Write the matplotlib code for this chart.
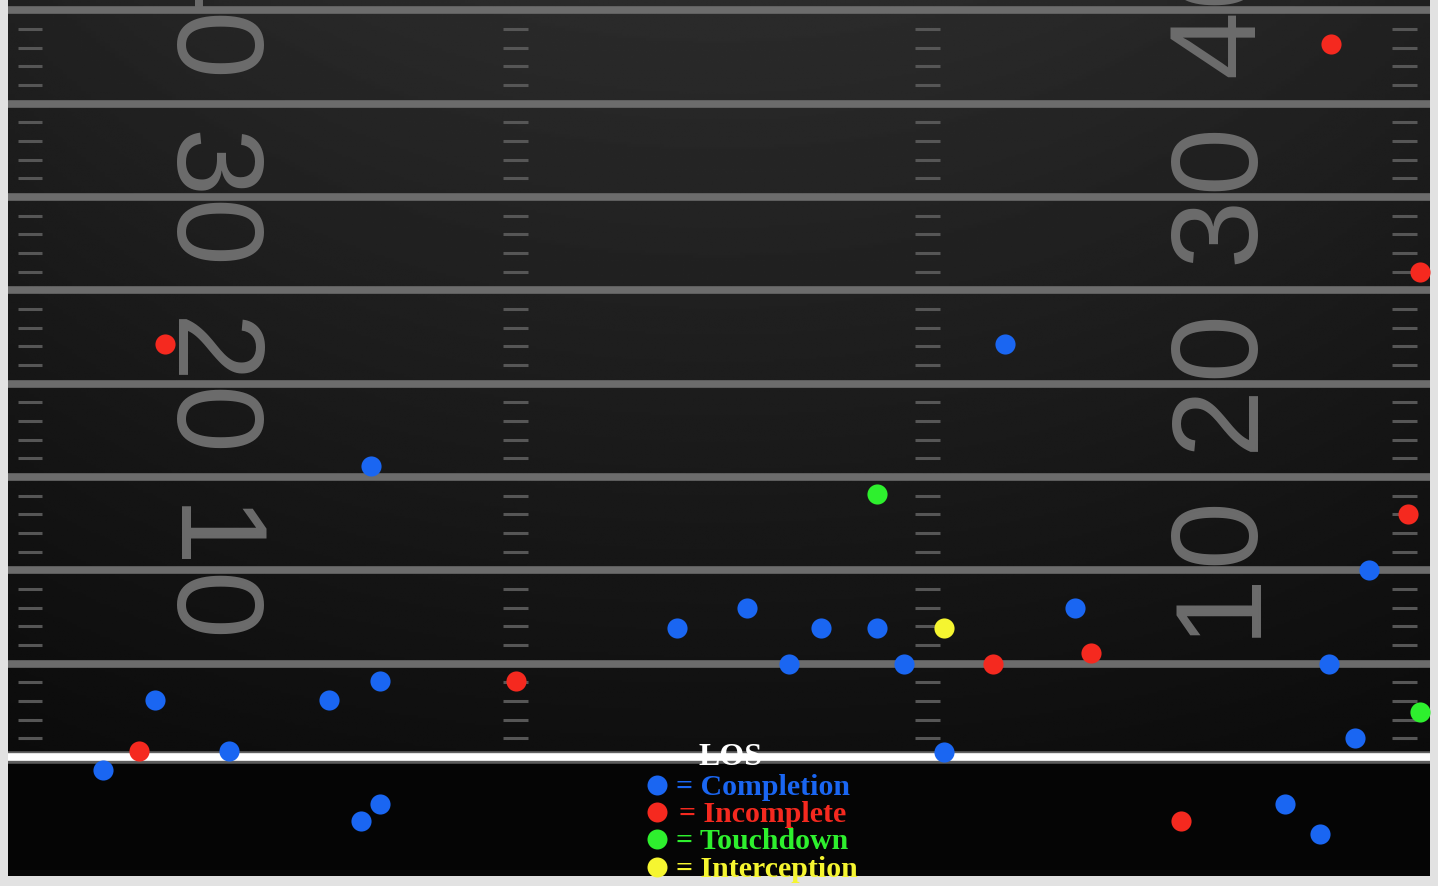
import numpy as np
import matplotlib.pyplot as plt
from matplotlib.lines import Line2D

# pass chart: x = yards from left sideline, y = yards past the line of scrimmage
comp_x = [13.6, 37.4, 51.05, 27.7, 25.1, 30.5, 32.6, 40.0, 29.3, 33.6, 49.55,
          13.95, 5.5, 12.05, 8.3, 35.1, 50.5, 3.55, 13.95, 13.25, 47.9, 49.2]
comp_y = [15.6, 22.1, 10.0, 8.0, 6.9, 6.9, 6.9, 8.0, 5.0, 5.0, 5.0,
          4.1, 3.05, 3.05, 0.3, 0.25, 1.0, -0.7, -2.5, -3.4, -2.5, -4.1]

inc_x = [49.6, 52.95, 5.9, 52.5, 19.05, 36.95, 40.6, 4.9, 44.0]
inc_y = [38.2, 26.0, 22.1, 13.0, 4.1, 5.0, 5.6, 0.3, -3.4]

td_x = [32.6, 52.95]
td_y = [14.1, 2.4]

int_x = [35.1]
int_y = [6.9]

outcomes = ["Completion", "Incomplete", "Touchdown", "Interception"]
colors = ["#1a66f2", "#f5291f", "#2ef02e", "#f5f530"]

yard_lines = [5, 10, 15, 20, 25, 30, 35, 40]
numbered_lines = [10, 20, 30, 40]
dash_yards = [y for y in range(1, 41) if y % 5]

FIELD_W = 53.33
TOP = 40.55
BOTTOM = -6.37
LINE_GRAY = "#6c6c6c"

fig = plt.figure(figsize=(14.38, 8.86), dpi=100, facecolor="#e2e2e2")
ax = fig.add_axes([8 / 1438, 10 / 886, 1422 / 1438, 876 / 886])
ax.set_xlim(0, FIELD_W)
ax.set_ylim(BOTTOM, TOP)
ax.axis("off")

#turf: lit from the top centre, black behind the line of scrimmage
gx = np.linspace(-1, 1, 300)
gy = np.linspace(0, 1, 300)
GX, GY = np.meshgrid(gx, gy)
shade = (0.06 + 0.11 * GY) * (1 - 0.25 * GX ** 2)
ax.imshow(shade, cmap="gray", vmin=0, vmax=1, extent=[0, FIELD_W, 0, TOP],
          origin="lower", aspect="auto", zorder=0)
ax.axhspan(BOTTOM, 0, color="#050505", zorder=0)

#yard lines and hash dashes
ax.hlines(yard_lines, 0, FIELD_W, color=LINE_GRAY, lw=5.5, zorder=2)
for x0, x1 in [(0.375, 1.275), (18.57, 19.5), (34.0, 34.96), (51.9, 52.85)]:
    ax.hlines(dash_yards, x0, x1, color="#565656", lw=2.2, zorder=2)

#line of scrimmage
ax.axhline(0, color="#9a9a9a", lw=9, alpha=0.6, zorder=3)
ax.axhline(0, color="white", lw=5.5, zorder=3)

#field numbers, one digit each side of the yard line
num_style = dict(fontsize=88, color=LINE_GRAY, family="Liberation Sans",
                 rotation_mode="anchor", va="baseline", zorder=1, clip_on=True)
for n in numbered_lines:
    tens, units = str(n)
    # left side reads top to bottom
    ax.text(6.15, n - 0.12, tens, rotation=-90, ha="right", **num_style)
    ax.text(6.15, n - 0.22, units, rotation=-90, ha="left", **num_style)
    # right side reads bottom to top
    ax.text(46.7, n + 0.05, tens, rotation=90, ha="right", **num_style)
    ax.text(46.7, n + 0.3, units, rotation=90, ha="left", **num_style)

#passes
series = [(comp_x, comp_y), (inc_x, inc_y), (td_x, td_y), (int_x, int_y)]
for (xs, ys), c in zip(series, colors):
    ax.scatter(xs, ys, s=210, color=c, linewidths=0, zorder=5, clip_on=False)

#legend
fig.text(731 / 1438, 1 - 765 / 886, "LOS", color="white", fontsize=23,
         fontweight="bold", family="Liberation Serif", ha="center", va="baseline")
for i, (name, c) in enumerate(zip(outcomes, colors)):
    base = 795 + 27.2 * i
    fig.add_artist(Line2D([657 / 1438], [1 - (base - 10) / 886], marker="o", ms=14.4,
                          color=c, markeredgewidth=0, transform=fig.transFigure))
    x_text = 679 if name == "Incomplete" else 676
    fig.text(x_text / 1438, 1 - base / 886, "= " + name, color=c, fontsize=21.5,
             fontweight="bold", family="Liberation Serif", va="baseline")

fig.savefig("out.png", dpi=100, facecolor=fig.get_facecolor())
